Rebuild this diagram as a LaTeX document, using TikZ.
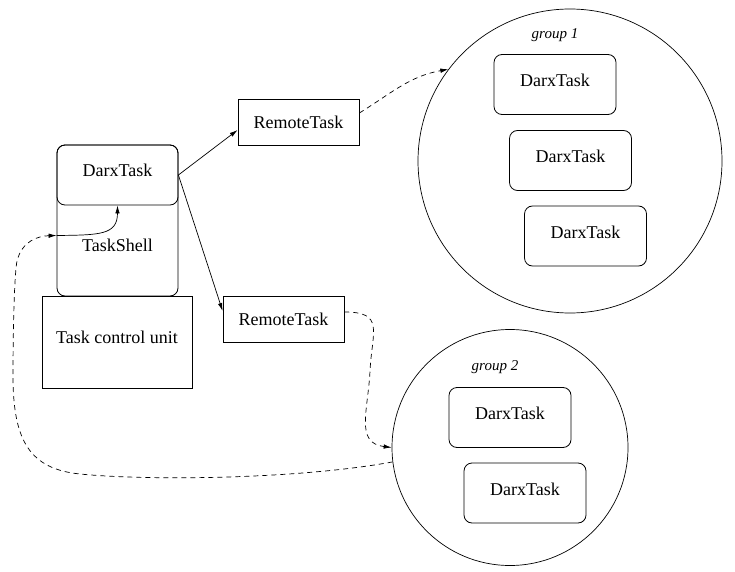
\documentclass[tikz,border=0pt]{standalone}
\usepackage{fontspec}
\setmainfont{Liberation Serif}
\usepackage{tikz}
\usetikzlibrary{arrows.meta, calc}
\tikzset{
  txt/.style={font=\fontsize{18}{21}\selectfont},
  darx/.style={txt, draw, rounded corners=8pt, line width=0.8pt, inner sep=0pt,
    minimum width=122pt, minimum height=60pt, text height=32pt, text depth=28pt},
  remote/.style={txt, draw, line width=0.8pt, inner sep=0pt,
    minimum width=121pt, minimum height=46pt},
  grp/.style={draw, circle, line width=0.7pt, inner sep=0pt},
  grplabel/.style={font=\fontsize{15}{18}\selectfont\itshape},
  conn/.style={-{Latex[length=8pt,width=4.5pt]}, line width=0.7pt},
  link/.style={conn, dash pattern=on 5pt off 4pt}
}
\begin{document}
\begin{tikzpicture}[x=1pt, y=1pt]
\useasboundingbox (0,0) rectangle (735,571);
% local task with its shell and control unit
\node[txt, draw, rounded corners=8pt, line width=0.8pt, inner sep=0pt, minimum width=121pt,
  minimum height=151pt, text height=106pt, text depth=45pt] (shell) at (117.5,350.5) {TaskShell};
\node[darx, minimum width=121pt] (dt) at (117.5,396) {DarxTask};
\node[txt, draw, line width=0.8pt, inner sep=0pt, minimum width=150pt, minimum height=92pt,
  text height=47pt, text depth=45pt] (tcu) at (117,229) {Task control unit};
% remote proxies
\node[remote] (rt1) at (298.5,449) {RemoteTask};
\node[remote] (rt2) at (283.5,252) {RemoteTask};
% group 1
\node[grp, minimum size=304pt] (g1) at (570,410) {};
\node[grplabel] (g1lab) at (555,536) {group 1};
\node[darx] (d11) at (555,486.5) {DarxTask};
\node[darx] (d12) at (570.5,410.5) {DarxTask};
\node[darx] (d13) at (585.5,335) {DarxTask};
% group 2
\node[grp, minimum size=236pt] (g2) at (510,123.5) {};
\node[grplabel] (g2lab) at (495,204) {group 2};
\node[darx] (d21) at (510,153.5) {DarxTask};
\node[darx] (d22) at (525,78) {DarxTask};
% connectors
\coordinate (entry) at ([yshift=-15pt]shell.west);
\draw[conn] (dt.east) -- ([yshift=-8pt]rt1.west);
\draw[conn] (dt.east) -- ([yshift=8pt]rt2.west);
\draw[link] ([yshift=9pt]rt1.east) to[out=32,in=190] (g1.143);
\draw[link] ([yshift=7pt]rt2.east) .. controls (385,259) and (372,240) .. (370,200)
  .. controls (368,160) and (355,128) .. (g2.west);
\draw[link] (g2.187) .. controls (300,92) and (150,90) .. (80,97)
  .. controls (30,102) and (14,130) .. (13,190)
  .. controls (13,260) and (15,300) .. (17,310)
  .. controls (22,330) and (38,335) .. (entry);
\draw[conn] (entry) .. controls (100,336) and (117.5,336) .. (dt.south);
\end{tikzpicture}
\end{document}
